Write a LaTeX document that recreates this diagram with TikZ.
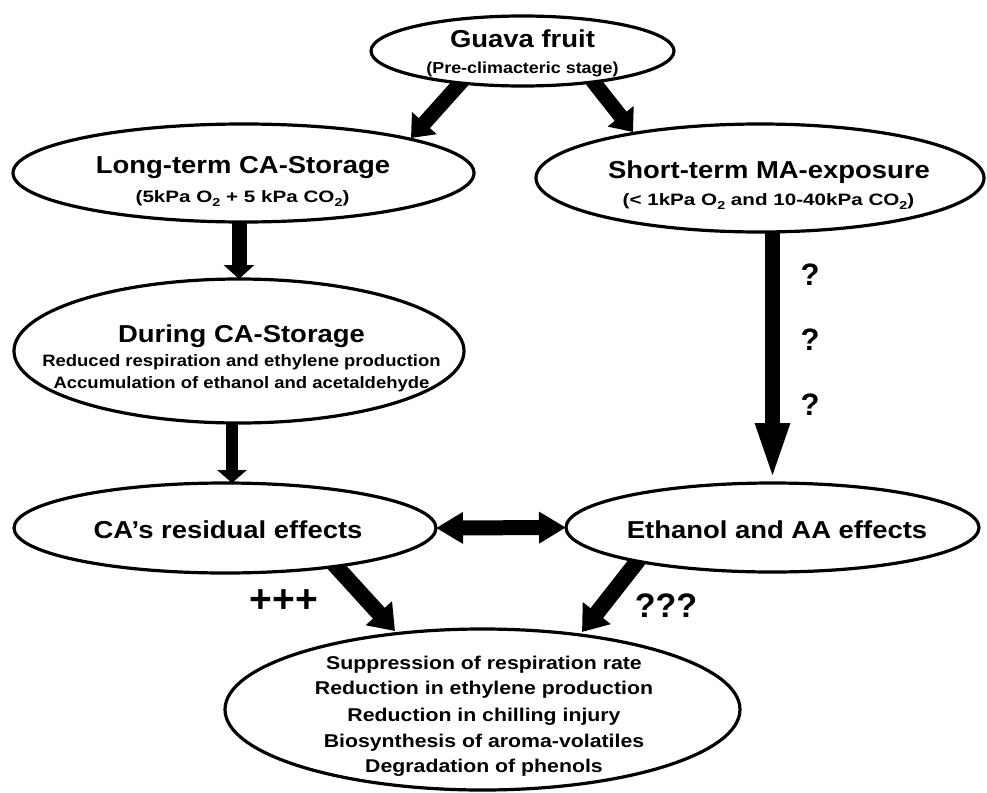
\documentclass[tikz,border=0pt]{standalone}
\usepackage{fontspec}
\setmainfont{Liberation Sans}[FakeStretch=1.12]
\newfontfamily\widefont{Liberation Sans}[FakeStretch=1.25]
\newfontfamily\botfont{Liberation Sans}[FakeStretch=1.15]
\newfontfamily\plainfont{Liberation Sans}
\newcommand{\lowtwo}{\raisebox{-0.28em}{\fontsize{11.5}{12}\selectfont 2}}
\usetikzlibrary{shapes.geometric,arrows.meta,backgrounds}
\tikzset{
  ell/.style={draw=black, fill=white, ellipse, line width=3.2pt, inner sep=0pt, outer sep=0pt},
  ttl/.style={anchor=base, inner sep=0pt, font=\fontsize{24.5}{29}\selectfont\bfseries},
  subw/.style={anchor=base, inner sep=0pt, font=\widefont\fontsize{16.5}{20}\selectfont\bfseries},
  subn/.style={anchor=base, inner sep=0pt, font=\fontsize{16.5}{20}\selectfont\bfseries},
  botl/.style={anchor=base, inner sep=0pt, font=\botfont\fontsize{18.5}{22}\selectfont\bfseries},
  qm/.style={anchor=base, inner sep=0pt, font=\plainfont\fontsize{31}{36}\selectfont\bfseries},
  blkv/.style={line width=15pt, -{Triangle[width=30pt,length=14pt]}},
  blkd/.style={line width=15pt, -{Triangle[width=32pt,length=20pt]}},
  blkb/.style={line width=16pt, -{Triangle[width=34pt,length=24pt]}},
}
\begin{document}
\begin{tikzpicture}[x=1pt,y=-1pt]
\useasboundingbox (0,0) rectangle (987,792);
% ellipses
\node[ell, minimum width=303pt, minimum height=70pt] (g) at (522.5,51) {};
\node[ell, minimum width=461pt, minimum height=98pt] (lt) at (243.5,173) {};
\node[ell, minimum width=448pt, minimum height=108pt] (st) at (760,178) {};
\node[ell, minimum width=450pt, minimum height=144pt] (dur) at (239,351) {};
\node[ell, minimum width=422pt, minimum height=90pt] (ca) at (225,528) {};
\node[ell, minimum width=413pt, minimum height=89pt] (eth) at (772.5,527.5) {};
\node[ell, minimum width=515pt, minimum height=161pt] (bot) at (482.5,709.5) {};
% texts
\node[ttl] (gt) at (522.5,48) {Guava fruit};
\node[subn, font=\fontsize{16}{20}\selectfont\bfseries] (gs) at (522.5,74) {(Pre-climacteric stage)};
\node[ttl] (ltt) at (243,173) {Long-term CA-Storage};
\node[subw] (lts) at (242.5,202) {(5kPa O\lowtwo{} + 5 kPa CO\lowtwo)};
\node[ttl] (stt) at (769,178) {Short-term MA-exposure};
\node[subw] (sts) at (768.5,205) {(< 1kPa O\lowtwo{} and 10-40kPa CO\lowtwo)};
\node[ttl] (dt) at (241.5,342) {During CA-Storage};
\node[subn] (d1) at (241.5,366) {Reduced respiration and ethylene production};
\node[subn] (d2) at (241.5,388) {Accumulation of ethanol and acetaldehyde};
\node[ttl] (cat) at (228,538) {CA’s residual effects};
\node[ttl] (etht) at (777,538) {Ethanol and AA effects};
\node[botl] (b1) at (484,669) {Suppression of respiration rate};
\node[botl] (b2) at (484,694.5) {Reduction in ethylene production};
\node[botl] (b3) at (484,721) {Reduction in chilling injury};
\node[botl] (b4) at (484,747) {Biosynthesis of aroma-volatiles};
\node[botl] (b5) at (484,772) {Degradation of phenols};
\node[qm] (q1) at (810,285) {?};
\node[qm] (q2) at (810,350) {?};
\node[qm] (q3) at (810,415) {?};
\node[qm, font=\plainfont\fontsize{39}{42}\selectfont\bfseries] (plus) at (284,612) {+++};
\node[qm, font=\plainfont\fontsize{34}{40}\selectfont\bfseries] (qqq) at (666,617) {???};
% arrows
\begin{pgfonlayer}{background}
\draw[blkd] ([shift={(-59.5,29)}]g.center) -- ([shift={(167.5,-35)}]lt.center);
\draw[blkd] ([shift={(69.5,29)}]g.center) -- ([shift={(-127,-46)}]st.center);
\draw[blkv] (dur.north |- lt.center) -- (dur.north);
\draw[line width=12pt, -{Triangle[width=29pt,length=13pt]}] ([xshift=7pt]ca.north |- dur.center) -- ([xshift=7pt]ca.north);
\draw[line width=15pt, -{Triangle[width=30pt,length=60pt]}] (eth.north |- st.center) -- (eth.north);
\draw[line width=15pt, {Triangle[width=30pt,length=27pt]}-{Triangle[width=30pt,length=27pt]}] (ca.east) -- (eth.west);
\draw[blkb] ([shift={(108,35)}]ca.center) -- ([shift={(-87.5,-78.5)}]bot.center);
\draw[blkb] ([shift={(-132.5,30.5)}]eth.center) -- ([shift={(99.5,-77.5)}]bot.center);
\end{pgfonlayer}
\end{tikzpicture}
\end{document}
